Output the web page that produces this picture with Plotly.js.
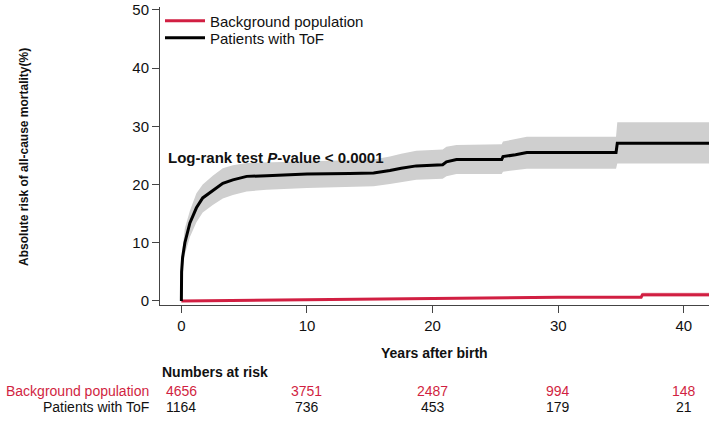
<!DOCTYPE html>
<html>
<head>
<meta charset="utf-8">
<script src="https://cdn.plot.ly/plotly-3.0.1.min.js"></script>
<style>
  body { margin: 0; background: #fff; }
  #plot { width: 709px; height: 422px; }
</style>
</head>
<body>
<div id="plot"></div>
<script>
// Patients with ToF: cumulative risk (%) and its confidence band
const tofYears = [0, 0.02, 0.1, 0.28, 0.68, 1.2, 1.7, 2.5, 3.3, 4.1, 5.2, 6.8, 10, 13.4, 15.3, 16.6, 17.5, 18.7, 20.8, 21.1, 21.9, 25.5, 25.6, 26.6, 27.5, 34.6, 34.7, 42];
const tofRisk  = [0, 5, 7.5, 10, 13.4, 16, 17.7, 19, 20.2, 20.8, 21.4, 21.5, 21.8, 21.9, 22.0, 22.4, 22.8, 23.2, 23.4, 23.9, 24.3, 24.3, 24.8, 25.1, 25.5, 25.5, 27.1, 27.1];
const tofUpper = [0, 5.8, 9, 12.5, 15.5, 18.5, 20, 21.5, 22.8, 23.3, 23.7, 23.8, 24, 24.1, 24.3, 24.8, 25.3, 25.8, 26, 26.5, 26.8, 26.9, 27.4, 27.8, 28.2, 28.2, 30.7, 30.7];
const tofLower = [0, 3, 5.5, 8, 11, 13.5, 15.2, 16.5, 17.6, 18.2, 18.8, 19.1, 19.4, 19.6, 19.7, 20.1, 20.4, 20.8, 21, 21.4, 21.8, 21.8, 22.2, 22.4, 22.7, 22.7, 23.6, 23.6];

// Background population
const bgYears = [0, 5, 10, 15, 17.5, 20, 25, 30, 36.6, 36.7, 42];
const bgRisk  = [0, 0.12, 0.22, 0.3, 0.35, 0.45, 0.55, 0.62, 0.65, 1.05, 1.05];
const bgUpper = [0, 0.17, 0.28, 0.36, 0.42, 0.52, 0.62, 0.7, 0.74, 1.45, 1.45];
const bgLower = [0, 0.07, 0.16, 0.24, 0.28, 0.38, 0.48, 0.54, 0.56, 0.7, 0.7];

// Numbers at risk table
const riskYears = [0, 10, 20, 30, 40];
const bgAtRisk  = [4656, 3751, 2487, 994, 148];
const tofAtRisk = [1164, 736, 453, 179, 21];

const RED = '#d11f42';
const FONT = 'Liberation Sans, Arial, sans-serif';

const traces = [
  { x: tofYears, y: tofUpper, mode: 'lines', line: { width: 0 }, hoverinfo: 'skip', showlegend: false },
  { x: tofYears, y: tofLower, mode: 'lines', line: { width: 0 }, fill: 'tonexty',
    fillcolor: '#cfcfcf', hoverinfo: 'skip', showlegend: false },
  { x: bgYears, y: bgUpper, mode: 'lines', line: { width: 0 }, hoverinfo: 'skip', showlegend: false },
  { x: bgYears, y: bgLower, mode: 'lines', line: { width: 0 }, fill: 'tonexty',
    fillcolor: 'rgba(209,31,66,0.22)', hoverinfo: 'skip', showlegend: false },
  { x: bgYears, y: bgRisk, mode: 'lines', name: 'Background population',
    line: { color: RED, width: 3 }, legend: 'legend' },
  { x: tofYears, y: tofRisk, mode: 'lines', name: 'Patients with ToF',
    line: { color: '#000', width: 3 }, legend: 'legend2' }
];

const annotations = [
  { text: '<b>Log-rank test <i>P</i>-value &lt; 0.0001</b>', xref: 'x', yref: 'y',
    x: -1.2, y: 24.7, xanchor: 'left', yanchor: 'middle', showarrow: false,
    font: { size: 15, color: '#111' } },
  { text: '<b>Absolute risk of all-cause mortality(%)</b>', xref: 'paper', yref: 'paper',
    x: 0, y: 0.497, xshift: -145, textangle: -90, showarrow: false,
    font: { size: 12, color: '#111' } },
  { text: '<b>Years after birth</b>', xref: 'paper', yref: 'paper',
    x: 0.5, y: 0, yshift: -48, yanchor: 'middle', showarrow: false,
    font: { size: 14, color: '#111' } },
  { text: '<b>Numbers at risk</b>', xref: 'paper', yref: 'paper',
    x: 0, y: 0, xanchor: 'left', yanchor: 'middle', yshift: -67, showarrow: false,
    font: { size: 14, color: '#111' } },
  { text: 'Background population', xref: 'paper', yref: 'paper',
    x: 0, y: 0, xshift: -9, xanchor: 'right', yanchor: 'middle', yshift: -86, showarrow: false,
    font: { size: 14, color: RED } },
  { text: 'Patients with ToF', xref: 'paper', yref: 'paper',
    x: 0, y: 0, xshift: -9, xanchor: 'right', yanchor: 'middle', yshift: -102, showarrow: false,
    font: { size: 14, color: '#111' } }
];

riskYears.forEach((yr, i) => {
  annotations.push({ text: String(bgAtRisk[i]), xref: 'x', yref: 'paper', x: yr, y: 0,
    yanchor: 'middle', yshift: -86, showarrow: false, font: { size: 14, color: RED } });
  annotations.push({ text: String(tofAtRisk[i]), xref: 'x', yref: 'paper', x: yr, y: 0,
    yanchor: 'middle', yshift: -102, showarrow: false, font: { size: 14, color: '#111' } });
});

const legendStyle = (yPos) => ({
  x: 0, y: yPos, xanchor: 'left', yanchor: 'middle', itemwidth: 40,
  bgcolor: 'rgba(0,0,0,0)', font: { size: 15, color: '#111' }
});

const layout = {
  width: 709,
  height: 422,
  margin: { l: 160, r: 0, t: 7, b: 117 },
  paper_bgcolor: '#fff',
  plot_bgcolor: '#fff',
  font: { family: FONT, color: '#111' },
  showlegend: true,
  legend: legendStyle(0.953),
  legend2: legendStyle(0.896),
  xaxis: {
    range: [-1.7, 42], tickvals: riskYears, showgrid: false, zeroline: false,
    showline: true, linecolor: '#444', linewidth: 1,
    ticks: 'outside', ticklen: 7, tickcolor: '#444',
    tickfont: { size: 15, color: '#111' }
  },
  yaxis: {
    range: [-0.7, 50.5], tickvals: [0, 10, 20, 30, 40, 50], showgrid: false, zeroline: false,
    showline: true, linecolor: '#444', linewidth: 1,
    ticks: 'outside', ticklen: 7, tickcolor: '#444',
    tickfont: { size: 15, color: '#111' }
  },
  annotations: annotations
};

Plotly.newPlot('plot', traces, layout, { displayModeBar: false, staticPlot: true });
</script>
</body>
</html>
